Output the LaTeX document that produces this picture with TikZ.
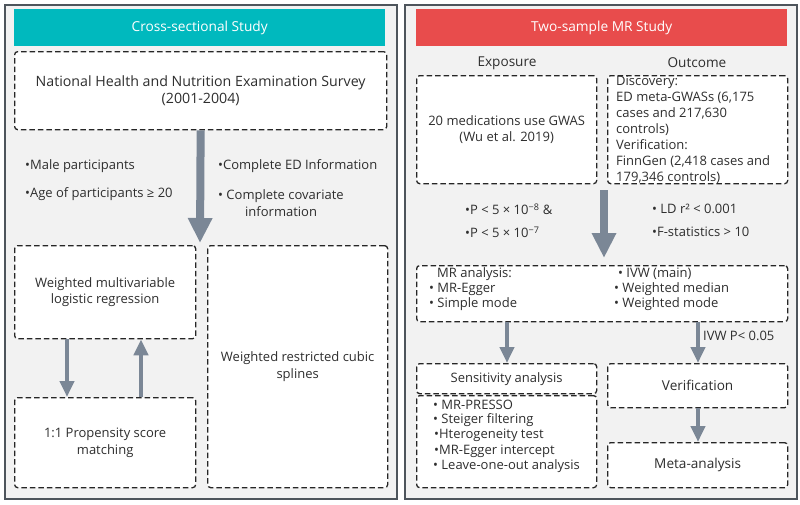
\documentclass[tikz,border=0pt]{standalone}
\usepackage{fontspec}
\setmainfont{Open Sans}
\usetikzlibrary{arrows.meta}
\definecolor{tealhead}{HTML}{00B9BE}
\definecolor{redhead}{HTML}{E84C4C}
\definecolor{panelbg}{HTML}{F2F2F2}
\definecolor{panelfr}{HTML}{4E555C}
\definecolor{arrowc}{HTML}{7B8796}
\definecolor{txt}{HTML}{2E2E2E}
\begin{document}
\begin{tikzpicture}[x=1pt,y=-1pt,
  every node/.style={text=txt},
  basefont/.style={font=\fontsize{13}{16.5}\selectfont},
  panel/.style={draw=panelfr, line width=1.5pt, fill=panelbg, anchor=north west, inner sep=0pt},
  head/.style={anchor=north west, inner sep=0pt, text=white, minimum width=371pt, minimum height=37pt, font=\fontsize{13.7}{16}\selectfont},
  box/.style={draw=black!85, dash pattern=on 5.5pt off 3pt, line width=1.3pt, fill=white,
    rounded corners=3pt, anchor=north west, inner sep=0pt, align=center, basefont},
  lbl/.style={anchor=west, inner sep=0pt, basefont},
  bigarrow/.style={draw=arrowc, line width=8pt, -{Triangle[width=23pt,length=25pt]}},
  smallarrow/.style={draw=arrowc, line width=4.5pt, -{Triangle[width=14pt,length=16pt]}}
]
\useasboundingbox (0,0) rectangle (800,504);

% panels
\node[panel, minimum width=392pt, minimum height=494pt] (pl) at (4,4) {};
\node[panel, minimum width=392pt, minimum height=494pt] (pr) at (404,4) {};

% headers
\node[head, fill=tealhead] (hl) at (14,9) {Cross-sectional Study};
\node[head, fill=redhead] (hr) at (416,9) {Two-sample MR Study};

% ---------- left panel ----------
\node[box, minimum width=372pt, minimum height=78pt, font=\fontsize{14.2}{17.5}\selectfont] (nh) at (14,51)
  {National Health and Nutrition Examination Survey\\(2001-2004)};
\node[box, minimum width=181pt, minimum height=93pt] (wml) at (14,245)
  {Weighted multivariable\\logistic regression};
\node[box, minimum width=181pt, minimum height=90pt] (psm) at (14,397)
  {1:1 Propensity score\\matching};
\node[box, minimum width=180pt, minimum height=242pt] (rcs) at (207,245)
  {Weighted restricted cubic\\splines};

\coordinate (a1) at (200,243);
\draw[bigarrow] (nh.south) -- (a1);
\coordinate (d1) at (67,0);
\coordinate (u1) at (141,0);
\draw[smallarrow] (wml.south -| d1) -- (psm.north -| d1);
\draw[smallarrow] (psm.north -| u1) -- (wml.south -| u1);

\node[lbl] (l1) at (25,166) {•Male participants};
\node[lbl] (l2) at (25,194) {•Age of participants ≥ 20};
\node[lbl] (l3) at (218,166) {•Complete ED Information};
\node[lbl] (l4) at (218,196) {• Complete covariate};
\node[lbl] (l5) at (245,212) {information};

% ---------- right panel ----------
\node[lbl, anchor=center, font=\fontsize{13.6}{16}\selectfont] (expt) at (507,63) {Exposure};
\node[lbl, anchor=center, font=\fontsize{13.6}{16}\selectfont] (outt) at (697,63) {Outcome};

\node[box, minimum width=180pt, minimum height=108pt] (exp) at (416,75)
  {20 medications use GWAS\\(Wu et al. 2019)};
\node[box, minimum width=180pt, minimum height=108pt] (out) at (607,75) {};
\node[anchor=north west, inner sep=0pt, align=left, font=\fontsize{13}{16}\selectfont] (outtxt) at (616,76)
  {Discovery:\\ED meta-GWASs (6,175\\cases and 217,630\\controls)\\Verification:\\FinnGen (2,418 cases and\\179,346 controls)};

\coordinate (a2top) at (604,190);
\coordinate (a2) at (604,258);
\draw[bigarrow] (a2top) -- (a2);

\node[lbl] (p1) at (465,209) {•P < 5 × 10\textsuperscript{−8} \&};
\node[lbl] (p2) at (465,232) {•P < 5 × 10\textsuperscript{−7}};
\node[lbl] (p3) at (652,209) {• LD r² < 0.001};
\node[lbl] (p4) at (652,232) {•F-statistics > 10};

\node[box, minimum width=371pt, minimum height=56pt] (mr) at (416,265) {};
\node[lbl] (m1) at (437,274) {MR analysis:};
\node[lbl] (m2) at (429,289) {• MR-Egger};
\node[lbl] (m3) at (429,304) {• Simple mode};
\node[lbl] (m4) at (618,274) {• IVW (main)};
\node[lbl] (m5) at (614,289) {• Weighted median};
\node[lbl] (m6) at (614,304) {• Weighted mode};

\node[box, minimum width=180pt, minimum height=30pt] (sa) at (416,363) {Sensitivity analysis};
\node[box, minimum width=180pt, minimum height=92pt] (sl) at (416,395) {};
\node[lbl] (s1) at (433,405) {• MR-PRESSO};
\node[lbl] (s2) at (433,420) {• Steiger filtering};
\node[lbl] (s3) at (434,435) {•Hterogeneity test};
\node[lbl] (s4) at (434,451) {•MR-Egger intercept};
\node[lbl] (s5) at (433,466) {• Leave-one-out analysis};

\node[box, minimum width=180pt, minimum height=44pt, font=\fontsize{13.6}{16}\selectfont] (ver) at (607,363) {Verification};
\node[box, minimum width=180pt, minimum height=45pt, font=\fontsize{13.6}{16}\selectfont] (meta) at (607,442) {Meta-analysis};

\coordinate (x1) at (507,0);
\coordinate (x2) at (698,0);
\draw[smallarrow] (mr.south -| x1) -- (sa.north -| x1);
\draw[smallarrow] (mr.south -| x2) -- (ver.north -| x2);
\draw[smallarrow] (ver.south -| x2) -- (meta.north -| x2);
\node[lbl] (ivw) at (703,336) {IVW P< 0.05};

\end{tikzpicture}
\end{document}
